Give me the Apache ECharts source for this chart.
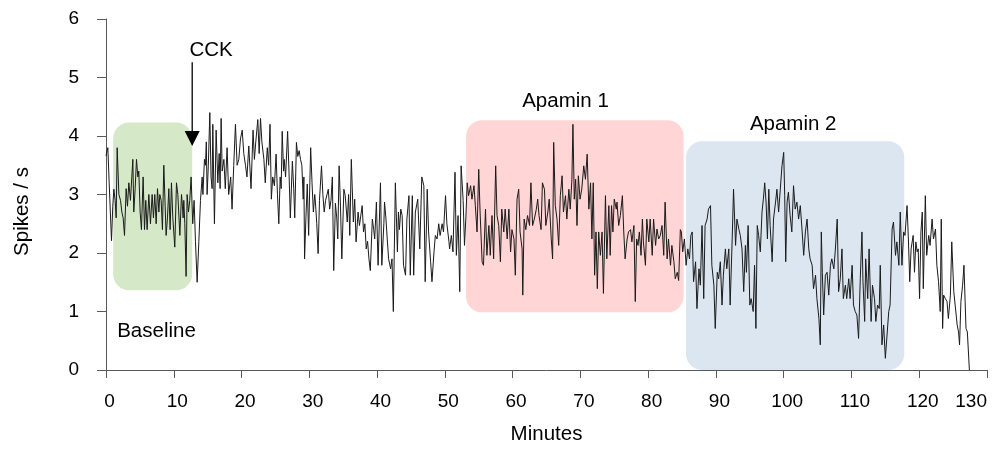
<!DOCTYPE html>
<html>
<head>
<meta charset="utf-8">
<script src="https://cdn.jsdelivr.net/npm/echarts@6/dist/echarts.min.js"></script>
<style>
html,body{margin:0;padding:0;background:#fff;}
#chart{width:999px;height:450px;}
</style>
</head>
<body>
<div id="chart"></div>
<script>
const minutes = [0.0,0.27,0.47,0.81,1.0,1.16,1.35,1.5,1.65,1.9,2.14,2.34,2.53,2.73,2.97,3.17,3.37,3.61,3.96,4.1,4.3,4.5,4.7,4.84,5.04,5.23,5.48,5.68,5.87,6.07,6.32,6.56,6.81,7.0,7.2,7.4,7.6,7.8,7.94,8.14,8.33,8.53,8.73,8.87,9.07,9.27,9.46,9.66,9.86,10.15,10.4,10.6,10.9,11.14,11.28,11.38,11.48,11.63,11.82,11.97,12.17,12.36,12.56,12.8,13.0,13.2,13.45,13.7,13.94,14.19,14.3,14.53,14.68,14.8,14.92,15.1,15.32,15.5,15.66,15.76,16.0,16.25,16.5,16.7,16.84,16.99,17.14,17.4,17.6,17.87,18.1,18.4,18.6,18.85,19.1,19.35,
19.6,19.84,20.1,20.33,20.58,20.8,21.07,21.4,21.7,21.9,22.1,22.4,22.6,22.8,23.0,23.3,23.5,23.8,24.0,24.2,24.4,24.6,24.85,25.1,25.3,25.5,25.7,25.85,26.0,26.2,26.3,26.5,26.8,27.0,27.2,27.5,27.7,27.85,28.1,28.3,28.5,28.7,28.9,29.1,29.2,29.3,29.5,29.7,29.9,30.2,30.4,30.6,30.8,30.9,31.1,31.3,31.5,31.8,32.0,32.2,32.4,32.5,32.8,33.0,33.2,33.4,33.6,33.85,34.05,34.2,34.4,34.6,34.8,
35.1,35.3,35.6,35.8,35.97,36.2,36.5,36.7,36.9,37.2,37.4,37.8,38.0,38.2,38.4,38.6,38.8,39.0,39.3,39.5,39.65,39.9,40.15,40.5,40.7,41.0,41.1,41.3,41.5,41.7,42.0,42.2,42.4,42.7,43.0,43.15,43.3,43.5,43.7,43.9,44.2,44.4,44.7,44.9,45.2,45.4,45.65,46.0,46.3,46.6,46.9,47.1,47.4,47.6,47.9,48.1,48.4,48.6,48.85,49.1,49.3,49.6,49.8,50.1,50.3,50.6,50.7,50.96,51.2,51.5,51.7,51.95,52.2,52.4,52.7,52.9,53.1,53.3,53.5,53.8,54.0,54.3,54.5,54.75,55.0,55.2,55.5,55.7,56.0,56.2,56.5,56.7,56.96,57.2,57.5,57.7,57.95,58.2,
58.4,58.7,58.9,59.2,59.45,59.7,59.9,60.2,60.4,60.65,60.9,61.1,61.4,61.5,61.7,61.95,62.2,62.5,62.7,62.95,63.2,63.5,63.7,63.9,64.2,64.4,64.7,64.9,65.2,65.4,65.7,65.9,66.06,66.3,66.55,66.8,67.04,67.3,67.5,67.8,68.0,68.3,68.5,68.75,68.9,69.1,69.3,69.5,69.7,69.95,70.2,70.5,70.75,71.0,71.25,71.5,71.7,71.9,72.1,72.3,72.5,72.7,72.95,73.2,73.4,73.7,73.9,74.2,74.4,74.6,74.8,75.0,75.3,75.4,75.65,75.9,76.2,76.4,76.6,76.9,77.1,77.4,77.6,77.9,78.1,78.3,78.5,78.7,78.95,79.15,79.3,79.6,79.8,80.1,80.3,80.6,80.8,81.1,81.3,81.55,
81.8,82.05,82.3,82.5,82.8,83.0,83.3,83.5,83.8,84.0,84.3,84.5,84.75,84.9,85.1,85.35,85.6,85.85,86.1,86.3,86.5,86.7,87.0,87.2,87.5,87.7,87.95,88.2,88.4,88.7,88.9,89.2,89.4,89.7,89.9,90.2,90.4,90.65,90.9,91.1,91.4,91.6,91.9,92.1,92.4,92.6,92.9,93.1,93.4,93.6,93.85,94.1,94.35,94.5,94.75,95.0,95.2,95.5,95.7,95.9,96.1,96.3,96.55,96.8,97.0,97.2,97.4,97.6,97.8,98.0,98.3,98.5,98.8,99.0,99.25,99.5,99.75,100.0,100.15,100.3,100.5,100.7,100.95,101.2,101.45,101.7,101.95,102.2,102.45,102.7,102.95,103.2,103.45,103.7,103.9,104.2,104.4,104.7,104.9,105.2,105.4,105.55,105.7,
105.9,106.15,106.4,106.65,106.9,107.1,107.4,107.6,107.9,108.1,108.35,108.6,108.8,109.1,109.3,109.6,109.8,110.1,110.3,110.55,110.8,111.05,111.3,111.55,111.7,111.95,112.1,112.4,112.6,112.9,113.1,113.4,113.6,113.85,114.1,114.25,114.5,114.75,115.0,115.25,115.5,115.7,116.0,116.2,116.5,116.7,117.0,117.2,117.45,117.7,117.9,118.2,118.4,118.6,118.8,119.1,119.3,119.5,119.7,119.85,120.05,120.25,120.45,120.6,120.9,121.1,121.4,121.6,121.9,122.1,122.4,122.6,122.85,123.1,123.25,123.45,123.6,123.85,124.1,124.3,124.6,124.8,125.1,125.3,125.6,125.8,125.95,126.15,126.4,126.6,126.9,127.1,127.4];

const spikesPerSec = [3.66,3.8,3.2,2.21,2.8,3.09,2.9,2.6,3.8,3.0,2.9,2.7,2.6,2.3,3.1,2.8,3.2,2.9,3.6,2.7,3.1,3.6,3.3,3.4,2.7,2.4,3.3,2.4,2.9,2.4,3.0,2.5,3.0,2.6,3.0,2.5,3.1,2.7,3.0,2.9,2.4,3.5,2.8,2.3,2.6,3.1,2.4,3.2,2.6,2.1,3.2,3.0,2.3,3.0,2.8,2.6,2.9,2.5,1.6,3.0,2.7,2.9,3.3,2.5,2.9,2.2,1.5,2.2,2.9,3.3,3.0,3.6,3.5,3.9,3.0,3.5,4.4,3.3,3.1,4.2,2.5,4.1,3.2,3.7,3.1,4.3,3.4,3.6,3.1,3.8,3.0,3.3,2.75,3.5,4.2,3.5,
3.6,3.95,4.1,3.7,3.5,3.3,3.83,3.1,4.1,3.6,3.9,4.28,3.7,4.3,3.9,3.6,3.2,3.8,3.5,4.2,2.92,3.3,3.15,3.69,3.0,2.5,3.3,3.1,4.08,3.4,3.6,3.3,4.08,3.4,2.6,3.57,3.1,2.6,3.89,3.65,3.75,3.6,3.5,2.92,3.3,1.9,2.6,3.18,2.3,3.8,3.2,2.7,3.0,2.87,2.5,1.99,2.9,3.49,3.0,2.7,2.9,2.87,3.09,2.75,2.9,3.3,1.7,2.85,2.6,2.24,3.49,2.8,1.9,
3.09,2.98,2.53,3.0,2.3,3.6,2.53,2.92,2.19,2.7,2.47,2.81,2.36,2.5,2.07,2.2,1.9,1.7,2.58,2.4,2.24,2.87,1.79,3.2,1.79,2.5,2.87,2.6,2.24,1.9,1.73,1.9,1.0,3.2,2.02,2.7,2.4,2.75,2.64,1.79,1.62,2.58,2.98,1.62,2.98,1.62,2.7,2.92,2.07,3.3,3.15,1.51,3.09,2.36,1.85,1.51,2.02,2.3,2.24,2.5,2.3,2.5,2.36,2.98,2.5,2.2,2.07,2.3,2.02,3.38,1.96,2.64,1.34,3.49,2.9,2.13,2.6,3.2,2.98,3.15,2.92,3.15,2.81,2.36,3.43,2.7,1.85,1.79,2.75,1.96,2.47,1.96,2.64,1.9,3.49,2.64,2.47,1.85,
2.75,2.36,2.75,2.24,2.75,2.02,2.4,2.24,1.62,2.92,3.09,2.36,2.07,1.28,2.58,2.4,2.64,2.47,3.2,2.47,2.58,2.75,2.92,2.64,2.4,3.2,3.09,2.47,2.7,2.92,2.24,1.9,3.89,2.81,2.58,2.13,2.98,3.32,2.7,2.98,2.58,3.09,2.75,3.26,4.2,2.92,3.26,2.47,3.32,2.92,3.09,3.49,3.26,3.69,2.75,3.2,2.24,3.2,1.62,2.36,1.39,2.36,1.96,2.36,1.31,2.98,1.9,2.81,1.96,2.81,2.36,2.92,2.75,2.87,2.47,2.64,2.98,2.36,1.9,2.24,2.36,2.4,2.19,2.47,1.17,2.24,2.13,2.36,1.96,2.58,2.19,1.79,2.58,2.19,2.58,1.96,2.58,2.13,2.41,2.24,
2.3,2.47,1.96,2.87,1.9,2.24,1.79,2.13,1.85,1.56,1.67,1.53,2.4,2.36,2.02,2.24,1.79,2.07,1.9,2.3,2.36,1.51,1.85,1.05,1.73,1.45,2.47,1.22,2.47,2.58,2.75,2.81,1.79,1.45,0.71,1.67,1.56,1.85,1.11,1.62,2.07,1.73,2.07,1.11,2.24,3.09,2.13,2.58,2.4,2.3,2.07,1.34,2.13,1.67,2.47,1.11,1.22,1.0,1.79,0.71,2.47,2.3,2.02,2.7,2.92,3.2,2.87,2.24,3.09,2.47,1.85,2.58,2.87,3.09,2.7,2.7,3.49,3.72,2.98,1.85,2.87,3.04,2.64,2.36,3.15,2.75,2.87,2.58,2.81,2.41,1.96,2.36,2.58,2.07,1.9,1.79,1.39,1.62,1.22,0.88,0.43,2.36,1.67,
0.94,1.62,1.67,1.28,1.79,1.9,1.73,2.02,2.58,1.34,1.56,2.07,1.22,1.45,1.22,1.56,1.22,1.79,1.11,1.0,0.94,0.54,1.56,2.36,1.51,0.83,1.9,1.22,2.07,0.83,1.45,1.22,0.83,1.11,1.05,1.79,0.43,0.77,0.2,0.2,1.0,1.11,2.41,2.53,1.96,2.19,1.79,2.7,1.79,2.36,2.3,2.81,2.24,1.51,2.07,2.3,1.67,2.19,2.02,2.07,1.22,2.36,2.7,1.39,2.98,1.96,2.3,2.13,2.58,2.24,2.41,1.79,1.51,1.0,2.58,0.71,1.28,1.22,1.17,0.88,1.28,2.19,1.34,1.11,0.77,0.65,0.43,1.17,1.45,1.79,0.71,0.65,0];

const xTicks = [0,10,20,30,40,50,60,70,80,90,100,110,120,130];
const yTicks = [0,1,2,3,4,5,6];

// Shaded condition boxes (minutes / spikes per s)
const boxNames = ['Baseline','Apamin 1','Apamin 2'];
const boxStart = [1.06, 53.13, 85.59];
const boxEnd = [12.72, 85.23, 117.79];
const boxTop = [4.23, 4.27, 3.91];
const boxBottom = [1.365, 0.986, 0.0];
const boxColors = ['#d5e8c8', '#ffd5d5', '#dce6f1'];

// Text labels (minutes / spikes per s)
const labelText = ['CCK','Baseline','Apamin 1','Apamin 2'];
const labelX = [15.5, 7.45, 67.8, 101.4];
const labelY = [5.47, 0.66, 4.59, 4.2];

// CCK arrow
const arrowX = [12.72];
const arrowTop = [5.26];
const arrowTip = [3.83];

const lineData = minutes.map((m, i) => [m, spikesPerSec[i]]);
const FONT = 'Liberation Sans, Arial, sans-serif';

const chart = echarts.init(document.getElementById('chart'), null, {renderer: 'canvas'});
chart.setOption({
  animation: false,
  backgroundColor: '#ffffff',
  grid: {left: 106, right: 12, top: 19, bottom: 78, containLabel: false},
  xAxis: {
    type: 'value', min: xTicks[0], max: xTicks[xTicks.length - 1], interval: 10,
    name: 'Minutes', nameLocation: 'middle', nameGap: 54,
    nameTextStyle: {fontFamily: FONT, fontSize: 20.5, color: '#000'},
    axisLine: {show: true, lineStyle: {color: '#595959', width: 1}},
    axisTick: {show: true, inside: false, length: 8, lineStyle: {color: '#595959'}},
    axisLabel: {fontFamily: FONT, fontSize: 19, color: '#000', margin: 22, padding: [0, 0, 0, 7], alignMaxLabel: 'right'},
    splitLine: {show: false}
  },
  yAxis: {
    type: 'value', min: yTicks[0], max: yTicks[yTicks.length - 1], interval: 1,
    name: 'Spikes / s', nameLocation: 'middle', nameGap: 73, nameRotate: 90,
    nameTextStyle: {fontFamily: FONT, fontSize: 20.5, color: '#000', padding: [0, 34, 0, 0]},
    axisLine: {show: true, lineStyle: {color: '#595959', width: 1}},
    axisTick: {show: true, inside: false, length: 9, lineStyle: {color: '#595959'}},
    axisLabel: {fontFamily: FONT, fontSize: 19, color: '#000', margin: 27},
    splitLine: {show: false}
  },
  series: [
    {
      type: 'custom', z: 1, silent: true,
      data: boxNames.map((n, i) => [boxStart[i], boxEnd[i], boxTop[i], boxBottom[i], i]),
      encode: {x: [0, 1], y: [2, 3]},
      renderItem: function (params, api) {
        const p1 = api.coord([api.value(0), api.value(2)]);
        const p2 = api.coord([api.value(1), api.value(3)]);
        const idx = api.value(4);
        return {
          type: 'rect',
          shape: {x: p1[0], y: p1[1], width: p2[0] - p1[0], height: p2[1] - p1[1], r: 16},
          style: {fill: boxColors[idx]}
        };
      }
    },
    {
      type: 'line', z: 5, data: lineData, showSymbol: false, symbol: 'none',
      lineStyle: {color: '#1a1a1a', width: 1}, silent: true
    },
    {
      type: 'custom', z: 6, silent: true,
      data: labelText.map((t, i) => [labelX[i], labelY[i], i]),
      renderItem: function (params, api) {
        const p = api.coord([api.value(0), api.value(1)]);
        return {
          type: 'text',
          style: {text: labelText[api.value(2)], x: p[0], y: p[1], textAlign: 'center', textVerticalAlign: 'middle',
                  font: '20.5px ' + FONT, fill: '#000'}
        };
      }
    },
    {
      type: 'custom', z: 6, silent: true,
      data: arrowX.map((x, i) => [x, arrowTop[i], arrowTip[i]]),
      renderItem: function (params, api) {
        const top = api.coord([api.value(0), api.value(1)]);
        const tip = api.coord([api.value(0), api.value(2)]);
        const head = 15;
        return {
          type: 'group',
          children: [
            {type: 'line', shape: {x1: top[0], y1: top[1], x2: tip[0], y2: tip[1] - head}, style: {stroke: '#000', lineWidth: 1.3}},
            {type: 'polygon', shape: {points: [[tip[0] - 7.5, tip[1] - head], [tip[0] + 7.5, tip[1] - head], [tip[0], tip[1]]]}, style: {fill: '#000'}}
          ]
        };
      }
    }
  ]
});
</script>
</body>
</html>
